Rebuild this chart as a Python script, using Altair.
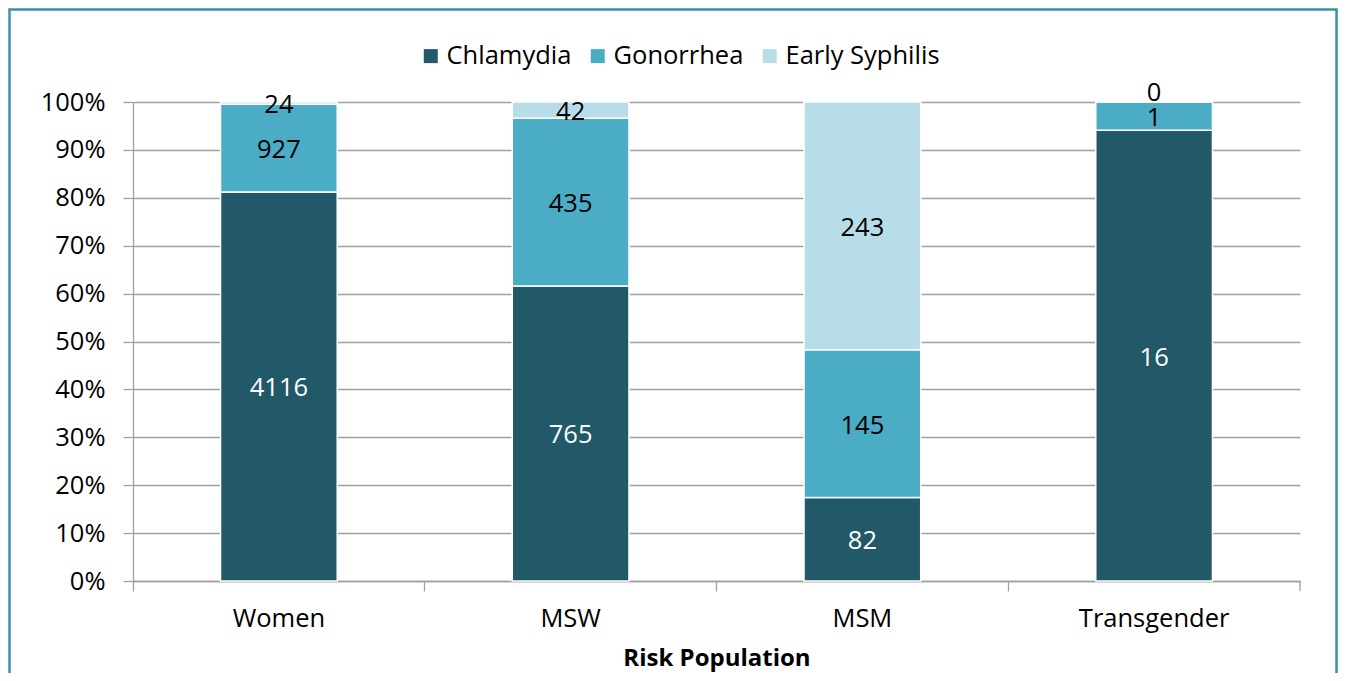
import altair as alt
import pandas as pd

populations = ["Women", "MSW", "MSM", "Transgender"]
diseases = ["Chlamydia", "Gonorrhea", "Early Syphilis"]
chlamydia = [4116, 765, 82, 16]
gonorrhea = [927, 435, 145, 1]
syphilis = [24, 42, 243, 0]
colors = ["#215968", "#4bacc6", "#b7dee8"]
y_ticks = [0, 0.1, 0.2, 0.3, 0.4, 0.5, 0.6, 0.7, 0.8, 0.9, 1.0]

rows = []
for series, name, order in [(chlamydia, "Chlamydia", 0), (gonorrhea, "Gonorrhea", 1), (syphilis, "Early Syphilis", 2)]:
    for pop, v in zip(populations, series):
        rows.append({"pop": pop, "disease": name, "count": v, "ord": order})
df = pd.DataFrame(rows)

FONT = "Open Sans"
FS = 25.5
W, H = 1167, 479

x_enc = alt.X("pop:N", sort=populations, title="Risk Population",
              scale=alt.Scale(paddingInner=0, paddingOuter=0),
              axis=alt.Axis(labelAngle=0, bandPosition=0, tickSize=10, labelPadding=15,
                            titlePadding=15, titleFontWeight="bold", titleFontSize=24))

base = alt.Chart(df)

bars = base.mark_bar(width=alt.RelativeBandSize(0.4), stroke="white", strokeWidth=1.5).encode(
    x=x_enc,
    y=alt.Y("count:Q", stack="normalize", title=None,
            scale=alt.Scale(domain=[0, 1]),
            axis=alt.Axis(format=".0%", values=y_ticks, tickSize=10, labelPadding=18,
                          grid=True, domain=True)),
    color=alt.Color("disease:N", sort=diseases,
                    scale=alt.Scale(domain=diseases, range=colors),
                    legend=alt.Legend(title=None, orient="none", direction="horizontal",
                                      legendX=285, legendY=-59, symbolType="square",
                                      symbolSize=196, symbolStrokeWidth=0,
                                      labelFontSize=FS, columnPadding=13, labelOffset=3)),
    order=alt.Order("ord:Q"),
)

lab = base.transform_joinaggregate(total="sum(count)", groupby=["pop"]).transform_calculate(
    frac="datum.count / datum.total"
).transform_stack(
    stack="frac", groupby=["pop"], as_=["y0", "y1"], sort=[alt.SortField("ord", "ascending")]
).transform_calculate(mid="(datum.y0 + datum.y1) / 2")

text_enc = dict(
    x=alt.X("pop:N", sort=populations),
    y=alt.Y("mid:Q", scale=alt.Scale(domain=[0, 1])),
    text=alt.Text("count:Q"),
)
lab_white = lab.transform_filter("datum.disease == 'Chlamydia'").mark_text(
    color="white", fontSize=FS, font=FONT, dy=2).encode(**text_enc)
lab_black = lab.transform_filter("datum.disease != 'Chlamydia' && datum.count > 0").mark_text(
    color="black", fontSize=FS, font=FONT, dy=2).encode(**text_enc)
lab_zero = lab.transform_filter("datum.disease != 'Chlamydia' && datum.count == 0").mark_text(
    color="black", fontSize=FS, font=FONT, dy=-9).encode(**text_enc)

end_tick = alt.Chart(pd.DataFrame({"a": [0]})).mark_rule(color="#a0a0a0", strokeWidth=1.3).encode(
    x=alt.value(W), y=alt.value(H), y2=alt.value(H + 10))

border = alt.Chart(pd.DataFrame({"a": [0]})).mark_rect(
    fill=None, stroke="#3d8ea8", strokeWidth=2.5).encode(
    x=alt.value(-123.5), x2=alt.value(1203.5), y=alt.value(-92.5), y2=alt.value(620))

chart = alt.layer(border, bars, lab_white, lab_black, lab_zero, end_tick).properties(
    width=W, height=H,
    autosize=alt.AutoSizeParams(type="none"),
    padding={"left": 125, "top": 94, "right": 38, "bottom": 92},
).configure_view(stroke=None).configure_axis(
    labelFont=FONT, titleFont=FONT, labelFontSize=FS, titleFontSize=FS,
    labelColor="black", titleColor="black",
    domainColor="#a0a0a0", tickColor="#a0a0a0", gridColor="#a0a0a0",
    domainWidth=1.3, tickWidth=1.3, gridWidth=1.3,
).configure_axisX(grid=False).configure_legend(labelFont=FONT, labelColor="black")

chart.save("out.html", embed_options={"renderer": "svg", "actions": False})
